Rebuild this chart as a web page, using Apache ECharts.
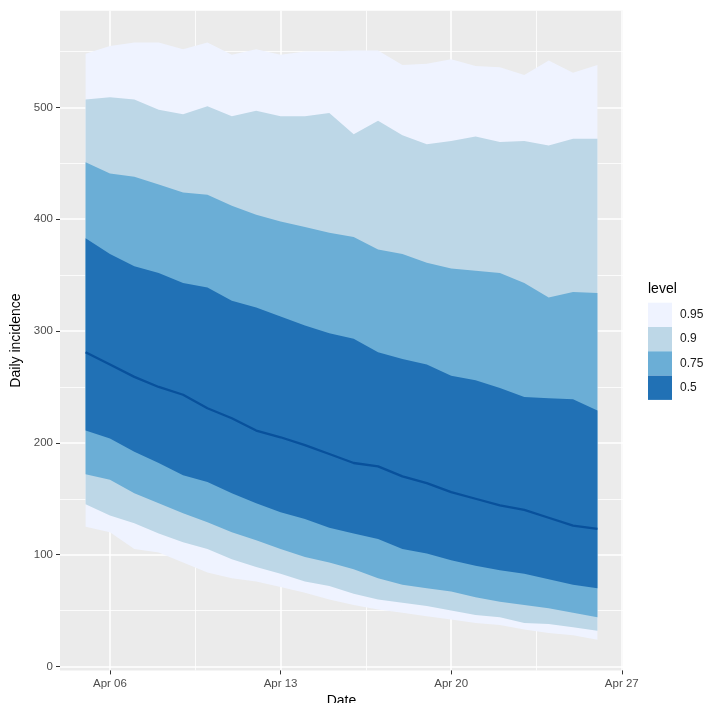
<!DOCTYPE html>
<html><head><meta charset="utf-8">
<script src="https://cdn.jsdelivr.net/npm/echarts@6/dist/echarts.min.js"></script>
<style>html,body{margin:0;padding:0;background:#fff}#c{width:707px;height:703px}</style>
</head><body><div id="c"></div>
<script>
// ---- data ----
const dates = ['2020-04-05','2020-04-06','2020-04-07','2020-04-08','2020-04-09','2020-04-10','2020-04-11',
  '2020-04-12','2020-04-13','2020-04-14','2020-04-15','2020-04-16','2020-04-17','2020-04-18','2020-04-19',
  '2020-04-20','2020-04-21','2020-04-22','2020-04-23','2020-04-24','2020-04-25','2020-04-26'];
const lo95 = [125,120,105,102,93,84,79,76,71,66,60,55,51,48,45,42,39,37,33,30,28,24];
const lo90 = [145,135,128,119,111,105,96,89,83,76,72,65,60,57,54,50,46,44,39,38,35,32];
const lo75 = [172,167,155,146,137,129,120,113,105,98,93,87,79,73,70,67,62,58,55,52,48,44];
const lo50 = [211,204,192,182,171,165,155,146,138,132,124,119,114,105,101,95,90,86,83,78,73,70];
const median = [281,270,259,250,243,231,222,211,205,198,190,182,179,170,164,156,150,144,140,133,126,123];
const hi50 = [383,369,358,352,343,339,327,321,313,305,298,293,281,275,270,260,256,249,241,240,239,229];
const hi75 = [451,441,438,431,424,422,412,404,398,393,388,384,373,369,361,356,354,352,343,330,335,334];
const hi90 = [507,509,507,498,494,501,492,497,492,492,495,476,488,475,467,470,474,469,470,466,472,472];
const hi95 = [548,555,558,558,552,558,547,552,547,550,550,551,551,538,539,543,537,536,529,542,531,538];
const tickDates = ['2020-04-06','2020-04-13','2020-04-20','2020-04-27'];
const tickLabels = ['Apr 06','Apr 13','Apr 20','Apr 27'];
const yTicks = [0,100,200,300,400,500];
const levels = ['0.95','0.9','0.75','0.5'];
const levelColors = ['#EFF3FF','#BDD7E7','#6BAED6','#2171B5'];

// ---- helpers ----
const DAY = 86400000;
const origin = Date.parse(tickDates[0]);
const toWeek = d => (Date.parse(d) - origin) / (7 * DAY);
const xs = dates.map(toWeek);
const xTickVals = tickDates.map(toWeek);
const pts = arr => arr.map((v, i) => [xs[i], v]);

const xr = xs[xs.length - 1] - xs[0];
const xMin = xs[0] - 0.05 * xr, xMax = xs[xs.length - 1] + 0.05 * xr;

const bandBounds = {'0.95': [lo95, hi95], '0.9': [lo90, hi90], '0.75': [lo75, hi75], '0.5': [lo50, hi50]};

const series = levels.map((name, k) => {
  const c = levelColors[k];
  const [lo, hi] = bandBounds[name];
  return {
    type: 'custom', name, silent: true, z: 1 + k,
    itemStyle: {color: c},
    data: pts(hi),
    encode: {x: 0, y: 1},
    renderItem: (params, api) => {
      if (params.dataIndex !== 0) return null;
      const top = xs.map((x, i) => api.coord([x, hi[i]]));
      const bot = xs.map((x, i) => api.coord([x, lo[i]])).reverse();
      return {type: 'polygon', shape: {points: top.concat(bot)}, style: {fill: c, stroke: null}};
    }
  };
});
series.push({
  type: 'line', data: pts(median), symbol: 'none', silent: true, z: 10,
  lineStyle: {color: '#08519C', width: 2.3}
});

const font = "'Liberation Sans', Arial, Helvetica, sans-serif";
const chart = echarts.init(document.getElementById('c'), null, {renderer: 'canvas'});
chart.setOption({
  animation: false,
  backgroundColor: '#ffffff',
  textStyle: {fontFamily: font},
  grid: {left: 60, right: 84, top: 10.7, bottom: 32.6, show: true, backgroundColor: '#EBEBEB', borderWidth: 0,
         outerBoundsMode: 'none', containLabel: false},
  xAxis: {
    type: 'value', min: xMin, max: xMax, splitNumber: 3,
    axisLine: {show: false, onZero: false},
    axisTick: {show: true, length: 4, lineStyle: {color: '#333333', width: 1}, customValues: xTickVals},
    axisLabel: {
      customValues: xTickVals, margin: 7, color: '#4D4D4D', fontSize: 11.5, fontFamily: font,
      formatter: v => { const i = xTickVals.findIndex(t => Math.abs(t - v) < 1e-6); return i >= 0 ? tickLabels[i] : ''; }
    },
    splitLine: {show: true, lineStyle: {color: '#ffffff', width: 1.5}},
    minorTick: {show: false, splitNumber: 2},
    minorSplitLine: {show: true, lineStyle: {color: '#ffffff', width: 0.8}},
    name: 'Date', nameLocation: 'middle', nameGap: 19,
    nameTextStyle: {color: '#000000', fontSize: 14, fontFamily: font}
  },
  yAxis: {
    type: 'value', min: -3.5, max: 586.5, splitNumber: 5,
    axisLine: {show: false, onZero: false},
    axisTick: {show: true, length: 4, lineStyle: {color: '#333333', width: 1}, customValues: yTicks},
    axisLabel: {customValues: yTicks, margin: 7, color: '#4D4D4D', fontSize: 11.5, fontFamily: font},
    splitLine: {show: true, lineStyle: {color: '#ffffff', width: 1.5}},
    minorTick: {show: false, splitNumber: 2},
    minorSplitLine: {show: true, lineStyle: {color: '#ffffff', width: 0.8}},
    name: 'Daily incidence', nameLocation: 'middle', nameGap: 29,
    nameTextStyle: {color: '#000000', fontSize: 14, fontFamily: font}
  },
  legend: {
    orient: 'vertical', left: 648, top: 302.7, itemWidth: 24, itemHeight: 24.3, itemGap: 0,
    icon: 'rect', selectedMode: false, padding: 0,
    data: levels.map((n, i) => ({name: n, itemStyle: {color: levelColors[i], opacity: 1, borderWidth: 0}})),
    textStyle: {color: '#1A1A1A', fontSize: 12, fontFamily: font, padding: [0, 0, 0, 3]}
  },
  graphic: [{
    type: 'text', left: 648, top: 282,
    style: {text: 'level', fill: '#000000', font: '14px ' + font}
  }],
  series
});
</script></body></html>
